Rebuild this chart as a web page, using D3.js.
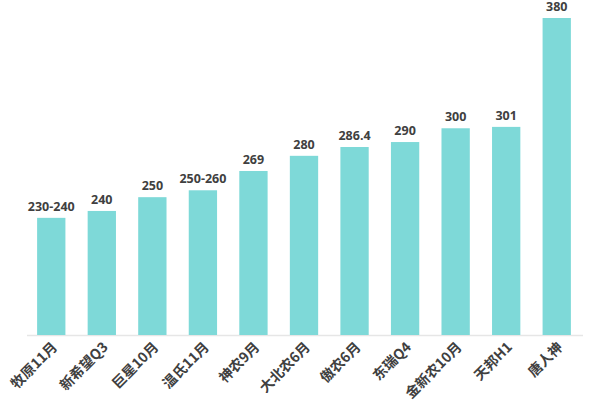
<!DOCTYPE html><html><head><meta charset="utf-8"><script src="https://cdn.jsdelivr.net/npm/d3@7"></script>
<style>body{margin:0;background:#fff}</style></head><body><svg id="c" width="600" height="400"></svg>
<script>
const categories=["牧原11月","新希望Q3","巨星10月","温氏11月","神农9月","大北农6月","傲农6月","东瑞Q4","金新农10月","天邦H1","唐人神"];
const values=[235,240,250,255,269,280,286.4,290,300,301,380];
const labels=["230-240","240","250","250-260","269","280","286.4","290","300","301","380"];
const svg=d3.select("#c");
const x=d3.scaleBand().domain(categories).range([27,581]).paddingInner(0.44).paddingOuter(0.2);
const y=d3.scaleLinear().domain([150,380]).range([335,18]);
svg.append("line").attr("x1",27).attr("x2",583).attr("y1",335.5).attr("y2",335.5).attr("stroke","#e6e6e6").attr("stroke-width",1.5);
svg.selectAll("rect.b").data(categories).join("rect").attr("x",d=>x(d)).attr("width",x.bandwidth())
 .attr("y",(d,i)=>y(values[i])).attr("height",(d,i)=>335-y(values[i])).attr("fill","#7ed9d8");
svg.selectAll("text.v").data(categories).join("text").attr("x",d=>x(d)+x.bandwidth()/2).attr("y",(d,i)=>Math.max(y(values[i])-7,11))
 .attr("text-anchor","middle").attr("font-family","Open Sans, DejaVu Sans, sans-serif").attr("font-weight","bold").attr("font-size",12.5).attr("fill","#404040").text((d,i)=>labels[i]);
svg.selectAll("text.c").data(categories).join("text")
 .attr("transform",d=>`translate(${x(d)+x.bandwidth()/2+7},${348}) rotate(-45)`)
 .attr("text-anchor","end").attr("font-family","Noto Sans CJK SC, sans-serif").attr("font-weight","bold").attr("font-size",14).attr("fill","#404040").text(d=>d);
</script></body></html>
